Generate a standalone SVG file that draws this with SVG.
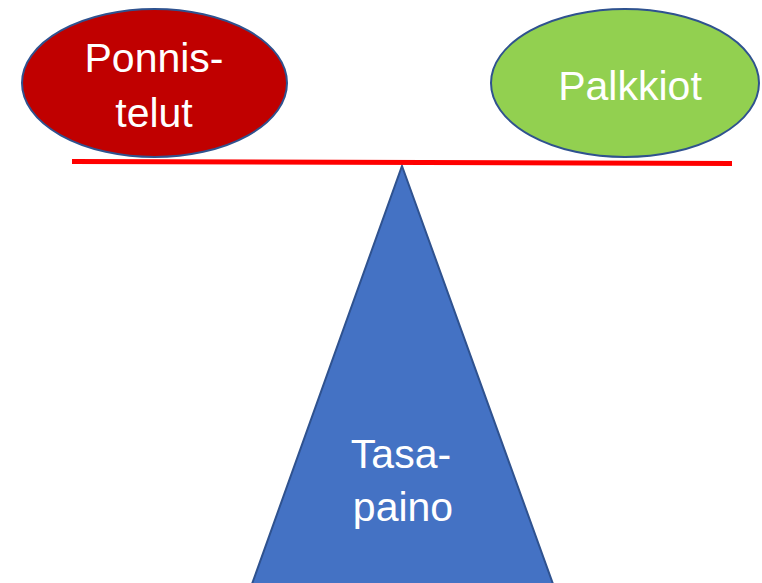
<svg xmlns="http://www.w3.org/2000/svg" width="762" height="583" viewBox="0 0 762 583">
<style>
.shape{stroke:#2F528F;stroke-width:2}
.lbl{font-family:"Liberation Sans",Arial,sans-serif;font-size:41px;fill:#ffffff;text-anchor:middle}
</style>
<rect width="762" height="583" fill="#ffffff"/>
<g id="tasapaino">
<polygon class="shape" points="402,166 553,584 252,584" fill="#4472C4"/>
<text class="lbl" x="401" y="468">Tasa-</text>
<text class="lbl" x="403" y="521">paino</text>
</g>
<g id="connectors">
<line x1="72" y1="161.5" x2="732" y2="163.5" stroke="#FF0000" stroke-width="5"/>
</g>
<g id="ponnistelut">
<ellipse class="shape" cx="154.5" cy="83" rx="132.5" ry="74" fill="#C00000"/>
<text class="lbl" x="154" y="72">Ponnis-</text>
<text class="lbl" x="154" y="127">telut</text>
</g>
<g id="palkkiot">
<ellipse class="shape" cx="625" cy="83" rx="134" ry="74" fill="#92D050"/>
<text class="lbl" x="630" y="100">Palkkiot</text>
</g>
</svg>
